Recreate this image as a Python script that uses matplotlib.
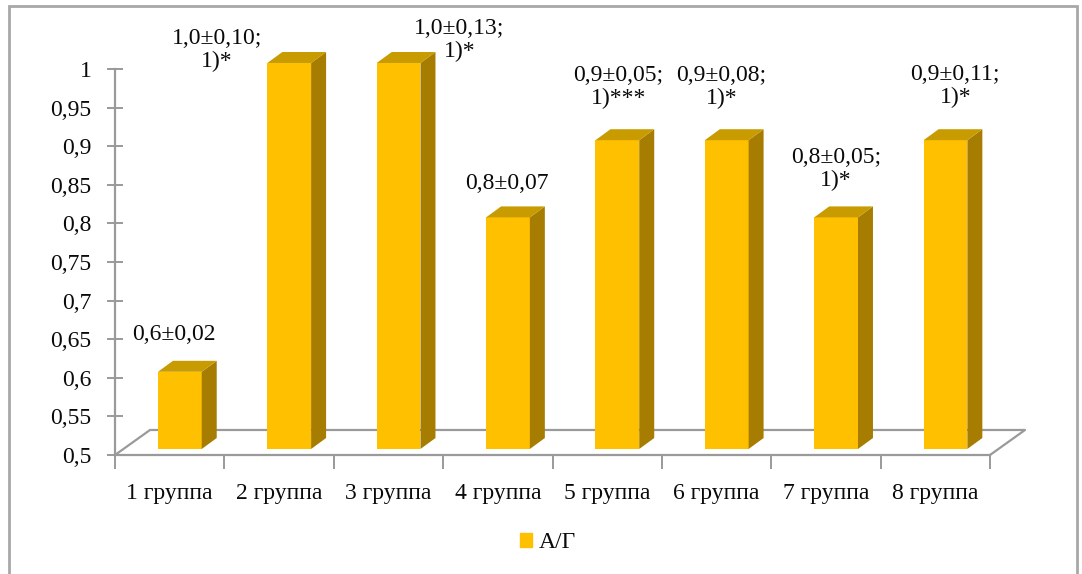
import matplotlib.pyplot as plt
from matplotlib.patches import Polygon, Rectangle, Patch

# ── Data ─────────────────────────────────────────────────────────
categories = ["1 группа", "2 группа", "3 группа", "4 группа",
              "5 группа", "6 группа", "7 группа", "8 группа"]
values = [0.6, 1.0, 1.0, 0.8, 0.9, 0.9, 0.8, 0.9]
bar_labels = ["0,6±0,02", "1,0±0,10;\n1)*", "1,0±0,13;\n1)*", "0,8±0,07",
              "0,9±0,05;\n1)***", "0,9±0,08;\n1)*", "0,8±0,05;\n1)*", "0,9±0,11;\n1)*"]
y_ticks = [0.5, 0.55, 0.6, 0.65, 0.7, 0.75, 0.8, 0.85, 0.9, 0.95, 1.0]
y_tick_labels = ["0,5", "0,55", "0,6", "0,65", "0,7", "0,75", "0,8", "0,85",
                 "0,9", "0,95", "1"]
series_name = "А/Г"

# ── Style ────────────────────────────────────────────────────────
plt.rcParams["font.family"] = ["Liberation Serif", "DejaVu Serif"]
FS = 17
TXT = "#0a0a0a"
GRID = "#9a9a9a"
FRONT, TOP, SIDE = "#FFC000", "#C89B00", "#A67D00"

# label offsets (pixels from bar top centre) – manual placement as in original
label_off = [(4, 43), (-62, 19), (71, 29), (9, 40), (11, 59), (5, 59), (10, 54), (20, 60)]

W, H = 1082, 574
fig = plt.figure(figsize=(W / 100, H / 100), dpi=100)
ax = fig.add_axes([115 / W, 119 / H, 875 / W, 386 / H])
ax.set_xlim(0, len(categories))
ax.set_ylim(0.5, 1.0)

# outer frame
fig.patches.append(Rectangle((9 / W, -0.05), 1068 / W, 1 - 6 / H + 0.05,
                             transform=fig.transFigure, fill=False,
                             ec="#a8a8a8", lw=2))

# floor (3D depth)
fdx, fdy = 0.32, 0.0324
n = len(categories)
floor = [(0, 0.5), (fdx, 0.5 + fdy), (n + fdx, 0.5 + fdy), (n, 0.5)]
ax.plot([p[0] for p in floor], [p[1] for p in floor], color=GRID, lw=1.6,
        clip_on=False, zorder=1)

# bars
ox, oy = 0.393, 0.0078      # front face offset inside the floor depth
bw = 0.40
bdx, bdy = 0.137, 0.0142    # bar depth
ax.bar([i + ox for i in range(n)], [v - 0.5 for v in values], bottom=0.5 + oy,
       width=bw, align="edge", color=FRONT, zorder=3, clip_on=False)
for i, v in enumerate(values):
    l, r = i + ox, i + ox + bw
    b, t = 0.5 + oy, v + oy
    ax.add_patch(Polygon([(r, b), (r + bdx, b + bdy), (r + bdx, t + bdy), (r, t)],
                         closed=True, fc=SIDE, ec="none", zorder=3, clip_on=False))
    ax.add_patch(Polygon([(l, t), (l + bdx, t + bdy), (r + bdx, t + bdy), (r, t)],
                         closed=True, fc=TOP, ec="none", zorder=3, clip_on=False))
    ax.annotate(bar_labels[i], xy=(i + 0.5, v), xytext=label_off[i],
                textcoords="offset pixels", ha="center", va="center",
                multialignment="center", fontsize=FS, color=TXT,
                linespacing=1.12, annotation_clip=False, zorder=5)

# axes
for s in ("top", "right"):
    ax.spines[s].set_visible(False)
for s in ("left", "bottom"):
    ax.spines[s].set_color(GRID)
    ax.spines[s].set_linewidth(1.6)
ax.set_yticks(y_ticks)
ax.set_yticklabels(y_tick_labels, fontsize=FS, color=TXT)
ax.tick_params(axis="y", direction="inout", length=12, width=1.4, color=GRID, pad=11)
ax.set_xticks(range(n + 1))
ax.set_xticklabels([])
ax.tick_params(axis="x", which="major", direction="out", length=10, width=1.4, color=GRID)
ax.set_xticks([i + 0.5 for i in range(n)], minor=True)
ax.set_xticklabels(categories, minor=True, fontsize=FS, color=TXT)
ax.tick_params(axis="x", which="minor", length=0, pad=20)
ax.set_facecolor("none")

# legend
fig.legend(handles=[Patch(color=FRONT, label=series_name)], loc="center",
           bbox_to_anchor=(548 / W, 1 - 543 / H), frameon=False, fontsize=FS,
           handlelength=0.5, handleheight=0.5, handletextpad=0.3,
           labelcolor=TXT)

plt.savefig("out.png", dpi=100)
